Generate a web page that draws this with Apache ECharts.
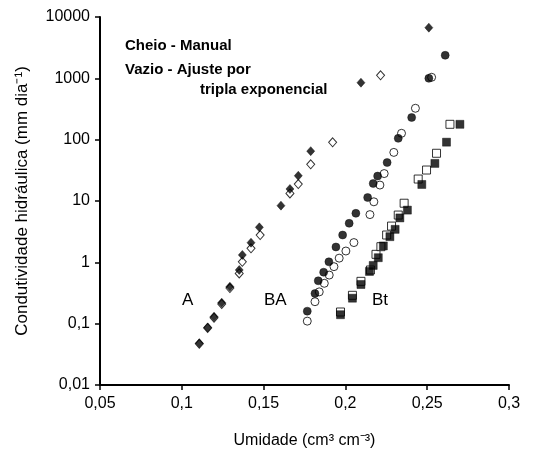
<!DOCTYPE html>
<html>
<head>
<meta charset="utf-8">
<script src="https://cdn.jsdelivr.net/npm/echarts@6/dist/echarts.min.js"></script>
<style>
html,body{margin:0;padding:0;background:#fff;}
#chart{width:547px;height:457px;}
</style>
</head>
<body>
<div id="chart"></div>
<script>
// dados: [umidade, condutividade]
var aCheio = [[0.1107,0.048],[0.1158,0.087],[0.1197,0.13],[0.1244,0.22],[0.1294,0.40],[0.1351,0.75],
	[0.1370,1.32],[0.1423,2.09],[0.1474,3.72],[0.1606,8.4],[0.1661,15.7],[0.1712,25.8],[0.1788,65],
	[0.2095,849],[0.2510,6700]];
var aVazio = [[0.1107,0.047],[0.1158,0.085],[0.1197,0.125],[0.1244,0.21],[0.1294,0.38],[0.1351,0.66],
	[0.1370,1.02],[0.1423,1.69],[0.1479,2.79],[0.1661,13.3],[0.1712,18.9],[0.1788,39.6],[0.1922,90.6],
	[0.2215,1120]];
var baCheio = [[0.1767,0.16],[0.1814,0.31],[0.1834,0.50],[0.1867,0.69],[0.1899,1.02],[0.1942,1.78],
	[0.1983,2.79],[0.2023,4.33],[0.2064,6.3],[0.2136,11.4],[0.2170,19.3],[0.2197,25.5],[0.2255,42.4],
	[0.2323,105],[0.2405,230],[0.2510,1000],[0.2610,2375]];
var baVazio = [[0.1767,0.11],[0.1814,0.228],[0.1840,0.33],[0.1871,0.455],[0.1901,0.62],[0.1930,0.85],
	[0.1962,1.17],[0.2003,1.53],[0.2052,2.1],[0.2150,6.0],[0.2174,9.7],[0.2211,18.2],[0.2237,28],
	[0.2296,62],[0.2343,127],[0.2428,325],[0.2527,1040]];
var btCheio = [[0.1970,0.14],[0.2043,0.26],[0.2095,0.435],[0.2147,0.71],[0.2170,0.89],[0.2201,1.19],
	[0.2232,1.85],[0.2272,2.62],[0.2304,3.45],[0.2333,5.3],[0.2379,7.1],[0.2467,18.6],[0.2547,41],
	[0.2618,91],[0.2700,178]];
var btVazio = [[0.1970,0.155],[0.2043,0.29],[0.2095,0.49],[0.2153,0.75],[0.2187,1.35],[0.2217,1.8],
	[0.2252,2.79],[0.2282,3.9],[0.2323,5.9],[0.2359,9.2],[0.2445,22.8],[0.2496,32],[0.2557,60],
	[0.2639,178]];

var fonte = '"Liberation Sans", Arial, sans-serif';

function virgula(v){
	return String(Number(Number(v).toPrecision(6))).replace('.', ',');
}

function serie(nome, dados, simbolo, tam, cheio){
	return {
		name: nome, type: 'scatter', data: dados, symbol: simbolo, symbolSize: tam,
		itemStyle: cheio ? {color: '#000', borderColor: '#000', borderWidth: 0.5}
			: {color: '#fff', borderColor: '#000', borderWidth: 1},
		emphasis: {disabled: true}
	};
}

var chart = echarts.init(document.getElementById('chart'));
var option = {
	backgroundColor: '#fff',
	animation: false,
	grid: {left: 100, right: 38, top: 17, bottom: 72},
	xAxis: {
		type: 'value', min: 0.05, max: 0.3, interval: 0.05,
		name: 'Umidade (cm³ cm⁻³)', nameLocation: 'middle', nameGap: 48,
		nameTextStyle: {fontFamily: fonte, fontSize: 16, color: '#000'},
		axisLine: {onZero: false, lineStyle: {color: '#000', width: 2}},
		axisTick: {length: 5, lineStyle: {color: '#000', width: 1.5}},
		axisLabel: {fontFamily: fonte, fontSize: 16, color: '#000', margin: 11, formatter: virgula},
		splitLine: {show: false}
	},
	yAxis: {
		type: 'log', logBase: 10, min: 0.01, max: 10000,
		name: 'Condutividade hidráulica (mm dia⁻¹)', nameLocation: 'middle', nameGap: 69,
		nameTextStyle: {fontFamily: fonte, fontSize: 17, color: '#000'},
		axisLine: {lineStyle: {color: '#000', width: 2}},
		axisTick: {length: 5, lineStyle: {color: '#000', width: 1.5}},
		axisLabel: {fontFamily: fonte, fontSize: 16, color: '#000', margin: 10, formatter: virgula},
		splitLine: {show: false}
	},
	graphic: [
		{type: 'text', left: 125, top: 38, style: {text: 'Cheio - Manual', font: 'bold 15px ' + fonte, fill: '#000'}},
		{type: 'text', left: 125, top: 62, style: {text: 'Vazio - Ajuste por', font: 'bold 15px ' + fonte, fill: '#000'}},
		{type: 'text', left: 200, top: 82, style: {text: 'tripla exponencial', font: 'bold 15px ' + fonte, fill: '#000'}},
		{type: 'text', left: 182, top: 292, style: {text: 'A', font: '17px ' + fonte, fill: '#000'}},
		{type: 'text', left: 264, top: 292, style: {text: 'BA', font: '17px ' + fonte, fill: '#000'}},
		{type: 'text', left: 372, top: 292, style: {text: 'Bt', font: '17px ' + fonte, fill: '#000'}}
	],
	series: [
		serie('A vazio', aVazio, 'diamond', [8, 9], false),
		serie('A cheio', aCheio, 'diamond', [8, 9], true),
		serie('BA vazio', baVazio, 'circle', 8, false),
		serie('BA cheio', baCheio, 'circle', 8, true),
		serie('Bt vazio', btVazio, 'rect', 8, false),
		serie('Bt cheio', btCheio, 'rect', 8, true)
	]
};
chart.setOption(option);
</script>
</body>
</html>
